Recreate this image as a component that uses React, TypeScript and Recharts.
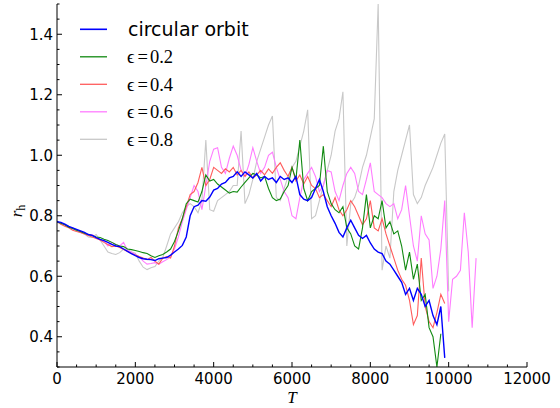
import React from 'react';
import { LineChart, Line, XAxis, YAxis, Legend } from 'recharts';

const times = [
  0, 100, 200, 300, 400, 500, 600, 700, 800, 900,
  1000, 1100, 1200, 1300, 1400, 1500, 1600, 1700, 1800, 1900,
  2000, 2100, 2200, 2300, 2400, 2500, 2600, 2700, 2800, 2900,
  3000, 3100, 3200, 3300, 3400, 3500, 3600, 3700, 3800, 3900,
  4000, 4100, 4200, 4300, 4400, 4500, 4600, 4700, 4800, 4900,
  5000, 5100, 5200, 5300, 5400, 5500, 5600, 5700, 5800, 5900,
  6000, 6100, 6200, 6300, 6400, 6500, 6600, 6700, 6800, 6900,
  7000, 7100, 7200, 7300, 7400, 7500, 7600, 7700, 7800, 7900,
  8000, 8100, 8200, 8300, 8400, 8500, 8600, 8700, 8800, 8900,
  9000, 9100, 9200, 9300, 9400, 9500, 9600, 9700, 9800, 9900,
  10000, 10100, 10200, 10300, 10400, 10500, 10600, 10700,
];

const circularOrbit = [
  0.780, 0.778, 0.772, 0.765, 0.760, 0.755, 0.750, 0.745, 0.738, 0.735,
  0.728, 0.722, 0.718, 0.712, 0.705, 0.700, 0.698, 0.690, 0.682, 0.675,
  0.668, 0.662, 0.658, 0.656, 0.655, 0.652, 0.658, 0.660, 0.662, 0.670,
  0.680, 0.690, 0.702, 0.730, 0.800, 0.830, 0.835, 0.850, 0.848, 0.862,
  0.885, 0.890, 0.905, 0.910, 0.925, 0.930, 0.945, 0.930, 0.945, 0.935,
  0.925, 0.940, 0.915, 0.930, 0.920, 0.925, 0.910, 0.930, 0.920, 0.925,
  0.910, 0.930, 0.870, 0.855, 0.850, 0.860, 0.890, 0.920, 0.880, 0.830,
  0.800, 0.775, 0.745, 0.730, 0.760, 0.785, 0.760, 0.735, 0.725, 0.735,
  0.710, 0.690, 0.680, 0.675, 0.650, 0.640, 0.620, 0.600, 0.580, 0.540,
  0.560, 0.520, 0.560, 0.540, 0.500, 0.520, 0.470, 0.440, 0.500, 0.330,
];

const eps02 = [
  0.780, 0.775, 0.770, 0.762, 0.758, 0.752, 0.748, 0.742, 0.738, 0.735,
  0.730, 0.728, 0.722, 0.718, 0.712, 0.705, 0.700, 0.698, 0.690, 0.688,
  0.685, 0.682, 0.678, 0.675, 0.668, 0.662, 0.668, 0.672, 0.680, 0.690,
  0.715, 0.750, 0.790, 0.840, 0.855, 0.850, 0.845, 0.880, 0.935, 0.915,
  0.920, 0.905, 0.895, 0.885, 0.875, 0.880, 0.878, 0.895, 0.910, 0.925,
  0.940, 0.935, 0.925, 0.930, 0.890, 0.860, 0.850, 0.855, 0.880, 0.900,
  0.960, 0.920, 1.050, 0.890, 0.850, 0.880, 0.890, 0.900, 1.030, 0.880,
  0.840, 0.820, 0.810, 0.830, 0.760, 0.740, 0.700, 0.690, 0.760, 0.870,
  0.760, 0.800, 0.790, 0.850, 0.760, 0.780, 0.740, 0.750, 0.700, 0.620,
  0.680, 0.590, 0.640, 0.520, 0.540, 0.430, 0.400, 0.300, 0.410,
];

const eps04 = [
  0.782, 0.772, 0.765, 0.760, 0.752, 0.748, 0.745, 0.740, 0.735, 0.730,
  0.725, 0.720, 0.712, 0.705, 0.698, 0.700, 0.695, 0.688, 0.682, 0.675,
  0.670, 0.665, 0.660, 0.655, 0.662, 0.650, 0.640, 0.660, 0.665, 0.660,
  0.700, 0.760, 0.790, 0.830, 0.870, 0.880, 0.910, 0.960, 0.900, 0.920,
  0.960, 0.950, 0.940, 0.955, 0.945, 0.960, 0.935, 0.950, 0.930, 0.945,
  0.925, 0.935, 0.950, 0.935, 0.955, 0.940, 0.960, 0.975, 0.950, 0.930,
  0.960, 0.915, 0.935, 0.905, 0.930, 0.900, 0.890, 0.860, 0.870, 0.850,
  0.830, 0.860, 0.820, 0.800, 0.820, 0.850, 0.830, 0.800, 0.770, 0.790,
  0.850, 0.760, 0.750, 0.790, 0.740, 0.700, 0.660, 0.620, 0.590, 0.570,
  0.520, 0.440, 0.470, 0.660, 0.500, 0.450, 0.430, 0.480, 0.540, 0.510,
];

const eps06 = [
  0.780, 0.775, 0.770, 0.762, 0.760, 0.752, 0.745, 0.742, 0.735, 0.738,
  0.728, 0.720, 0.715, 0.700, 0.712, 0.705, 0.700, 0.712, 0.685, 0.680,
  0.672, 0.665, 0.650, 0.640, 0.642, 0.645, 0.640, 0.648, 0.655, 0.665,
  0.690, 0.730, 0.780, 0.820, 0.860, 0.900, 0.880, 0.820, 0.900, 0.980,
  1.020, 1.025, 0.960, 0.940, 0.990, 1.030, 1.000, 0.950, 0.930, 0.970,
  1.025, 0.980, 0.940, 0.960, 1.000, 1.010, 0.960, 0.920, 0.880, 0.860,
  0.800, 0.790, 0.860, 0.920, 0.940, 0.960, 0.930, 0.880, 0.900, 0.950,
  0.945, 0.880, 0.850, 0.900, 0.940, 0.960, 0.940, 0.880, 0.870, 0.920,
  0.975, 0.880, 0.870, 0.860, 0.840, 0.830, 0.840, 0.790, 0.820, 0.900,
  0.800, 0.700, 0.650, 0.800, 0.740, 0.720, 0.560, 0.600, 0.690, 0.850,
  0.450, 0.590, 0.600, 0.620, 0.810, 0.680, 0.430, 0.660,
];

const eps08 = [
  0.780, 0.772, 0.770, 0.765, 0.755, 0.750, 0.745, 0.740, 0.730, 0.728,
  0.738, 0.720, 0.700, 0.680, 0.675, 0.672, 0.678, 0.690, 0.688, 0.680,
  0.676, 0.650, 0.630, 0.622, 0.628, 0.632, 0.650, 0.662, 0.700, 0.740,
  0.760, 0.780, 0.810, 0.830, 0.840, 0.830, 0.810, 0.850, 1.050, 0.820,
  0.815, 0.850, 0.860, 0.870, 0.880, 0.900, 0.900, 1.080, 0.840, 0.870,
  0.920, 0.980, 1.020, 1.060, 1.100, 1.130, 0.860, 0.850, 0.890, 0.930,
  0.960, 0.980, 1.030, 1.080, 1.150, 0.790, 0.800, 0.850, 0.900, 0.950,
  1.000, 1.080, 1.120, 1.210, 0.700, 0.840, 0.860, 0.900, 0.960, 1.000,
  1.060, 1.120, 1.500, 0.620, 0.700, 0.660, 0.880, 0.950, 1.000, 1.050,
  1.100, 0.870, 0.840, 0.860, 0.900, 0.930, 0.960, 1.000, 1.040, 1.070,
  0.550,
];

const xMajorTicks = [0, 2000, 4000, 6000, 8000, 10000, 12000];
const xAllTicks = [
  0, 500, 1000, 1500, 2000, 2500, 3000, 3500, 4000, 4500, 5000, 5500, 6000,
  6500, 7000, 7500, 8000, 8500, 9000, 9500, 10000, 10500, 11000, 11500, 12000,
];
const yMajorTicks = [0.4, 0.6, 0.8, 1.0, 1.2, 1.4];
const yAllTicks = [
  0.3, 0.35, 0.4, 0.45, 0.5, 0.55, 0.6, 0.65, 0.7, 0.75, 0.8, 0.85, 0.9,
  0.95, 1.0, 1.05, 1.1, 1.15, 1.2, 1.25, 1.3, 1.35, 1.4, 1.45, 1.5,
];

const seriesLabels = ['circular orbit', '0.2', '0.4', '0.6', '0.8'];
const seriesKeys = ['circ', 'e02', 'e04', 'e06', 'e08'];
const seriesColors = ['#0000ff', '#118a11', '#ff5c5c', '#ff7cff', '#c8c8c8'];
const seriesWidths = [1.4, 1.1, 1.1, 1.1, 1.1];
const seriesValues = [circularOrbit, eps02, eps04, eps06, eps08];

const rows = times.map((t, i) => {
  const row: any = { T: t };
  seriesKeys.forEach((k, s) => {
    const v = seriesValues[s][i];
    row[k] = v === undefined ? null : v;
  });
  return row;
});

const isMajor = (list: number[], v: number) => list.some((m) => Math.abs(m - v) < 1e-6);

const TICK_FONT = "'DejaVu Sans', sans-serif";
const MATH_FONT = "'Liberation Serif', 'DejaVu Serif', serif";

const XTickBottom = (props: any) => {
  const { x, y, payload } = props;
  const major = isMajor(xMajorTicks, payload.value);
  return (
    <g>
      <line x1={x} x2={x} y1={y} y2={y - (major ? 5 : 2.5)} stroke="#000" strokeWidth={1} />
      {major && (
        <text x={x} y={y + 16.5} textAnchor="middle" fontSize={15} fontFamily={TICK_FONT} fill="#000">
          {payload.value}
        </text>
      )}
    </g>
  );
};

const XTickTop = (props: any) => {
  const { x, y, payload } = props;
  const major = isMajor(xMajorTicks, payload.value);
  return <line x1={x} x2={x} y1={y} y2={y + (major ? 5 : 2.5)} stroke="#000" strokeWidth={1} />;
};

const YTickLeft = (props: any) => {
  const { x, y, payload } = props;
  const major = isMajor(yMajorTicks, payload.value);
  return (
    <g>
      <line x1={x} x2={x + (major ? 5 : 2.5)} y1={y} y2={y} stroke="#000" strokeWidth={1} />
      {major && (
        <text x={x - 4} y={y + 5.3} textAnchor="end" fontSize={15} fontFamily={TICK_FONT} fill="#000">
          {Number(payload.value).toFixed(1)}
        </text>
      )}
    </g>
  );
};

const YTickRight = (props: any) => {
  const { x, y, payload } = props;
  const major = isMajor(yMajorTicks, payload.value);
  return <line x1={x} x2={x - (major ? 5 : 2.5)} y1={y} y2={y} stroke="#000" strokeWidth={1} />;
};

const XLabel = (props: any) => {
  const vb = props.viewBox || { x: 57, y: 367, width: 470, height: 41 };
  return (
    <text x={vb.x + vb.width / 2} y={vb.y + 36} textAnchor="middle" fontSize={17} fontStyle="italic" fontFamily={MATH_FONT} fill="#000">
      T
    </text>
  );
};

const YLabel = () => (
  <text x={22} y={211} transform="rotate(-90, 22, 211)" textAnchor="middle" fontSize={17} fontFamily={MATH_FONT} fill="#000">
    <tspan fontStyle="italic">r</tspan>
    <tspan fontSize={12} dy={3}>h</tspan>
  </text>
);

const LegendBox = () => (
  <svg width={260} height={160} style={{ position: 'absolute', left: 0, top: 0 }}>
    {seriesKeys.map((k, i) => {
      const cy = 29.3 + i * 27.5;
      return (
        <g key={k}>
          <line x1={80} x2={107} y1={cy} y2={cy} stroke={seriesColors[i]} strokeWidth={seriesWidths[i] + 0.2} />
          {i === 0 ? (
            <text x={128} y={cy + 6.3} fontSize={19} fontFamily={TICK_FONT} fill="#000">
              {seriesLabels[i]}
            </text>
          ) : (
            <text x={127} y={cy + 6.6} fontSize={18.5} fontFamily={MATH_FONT} fill="#000">
              <tspan>ϵ</tspan>
              <tspan dx={3}>=</tspan>
              <tspan dx={2}>{seriesLabels[i]}</tspan>
            </text>
          )}
        </g>
      );
    })}
  </svg>
);

export default function App() {
  const drawOrder = [4, 3, 2, 1, 0];
  return (
    <div style={{ position: 'absolute', left: 0, top: 0, width: 560, height: 408, background: '#fff' }}>
      <LineChart width={560} height={408} data={rows} margin={{ top: 4, right: 33, bottom: 0, left: 0 }}>
        <XAxis
          xAxisId="b"
          dataKey="T"
          type="number"
          domain={[0, 12000]}
          ticks={xAllTicks}
          interval={0}
          orientation="bottom"
          height={41}
          tickSize={0}
          tickMargin={0}
          tickLine={false}
          tick={<XTickBottom />}
          axisLine={{ stroke: '#000', strokeWidth: 1 }}
          allowDataOverflow
          label={<XLabel />}
        />
        <XAxis
          xAxisId="t"
          dataKey="T"
          type="number"
          domain={[0, 12000]}
          ticks={xAllTicks}
          interval={0}
          orientation="top"
          height={0}
          tickSize={0}
          tickMargin={0}
          tickLine={false}
          tick={<XTickTop />}
          axisLine={{ stroke: '#000', strokeWidth: 1 }}
          allowDataOverflow
        />
        <YAxis
          yAxisId="l"
          type="number"
          domain={[0.3, 1.5]}
          ticks={yAllTicks}
          interval={0}
          orientation="left"
          width={57}
          tickSize={0}
          tickMargin={0}
          tickLine={false}
          tick={<YTickLeft />}
          axisLine={{ stroke: '#000', strokeWidth: 1 }}
          allowDataOverflow
          label={<YLabel />}
        />
        <YAxis
          yAxisId="r"
          type="number"
          domain={[0.3, 1.5]}
          ticks={yAllTicks}
          interval={0}
          orientation="right"
          width={0}
          tickSize={0}
          tickMargin={0}
          tickLine={false}
          tick={<YTickRight />}
          axisLine={{ stroke: '#000', strokeWidth: 1 }}
          allowDataOverflow
        />
        {drawOrder.map((i) => (
          <Line
            key={seriesKeys[i]}
            xAxisId="b"
            yAxisId="l"
            type="linear"
            dataKey={seriesKeys[i]}
            name={seriesLabels[i]}
            stroke={seriesColors[i]}
            strokeWidth={seriesWidths[i]}
            dot={false}
            activeDot={false}
            connectNulls={false}
            isAnimationActive={false}
          />
        ))}
        <Legend
          layout="vertical"
          align="center"
          verticalAlign="middle"
          wrapperStyle={{ left: 0, top: 0, width: 260, height: 160 }}
          content={<LegendBox />}
        />
      </LineChart>
    </div>
  );
}
